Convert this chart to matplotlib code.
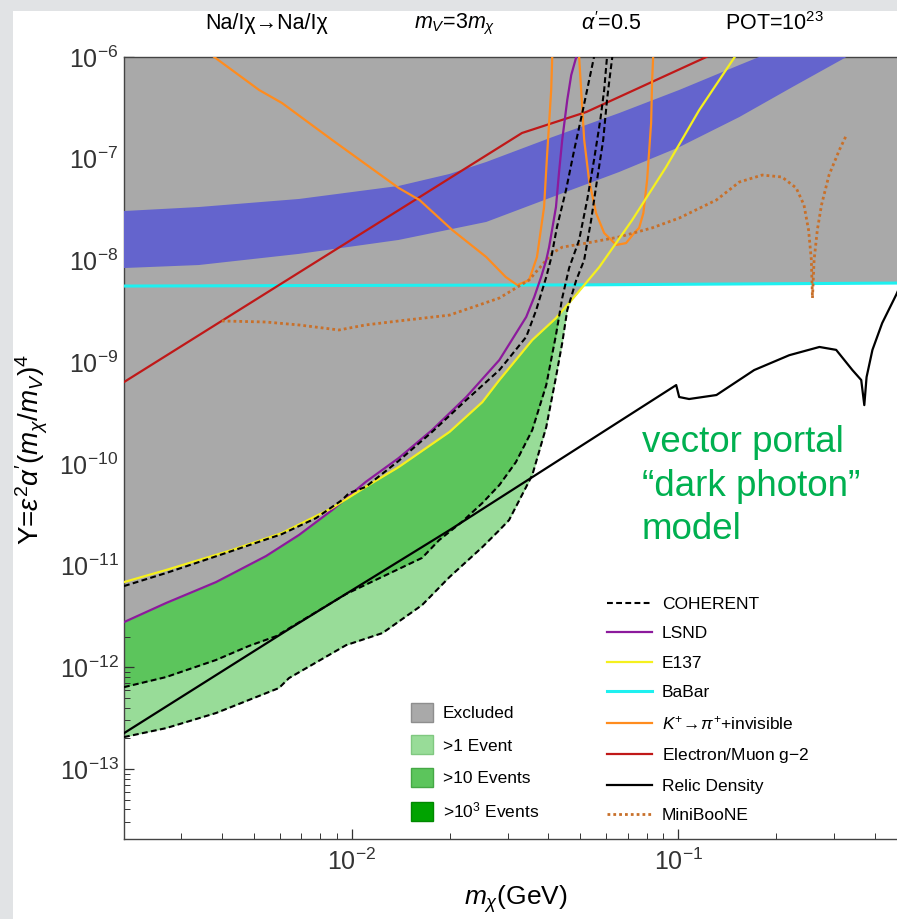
import matplotlib

matplotlib.use("Agg")
import matplotlib.pyplot as plt
import numpy as np
from matplotlib.lines import Line2D
from matplotlib.patches import Patch, Rectangle
from matplotlib.ticker import FixedLocator, NullFormatter

plt.rcParams["font.family"] = ["Liberation Sans", "DejaVu Sans"]
plt.rcParams["mathtext.fontset"] = "custom"
plt.rcParams["mathtext.rm"] = "Liberation Sans"
plt.rcParams["mathtext.it"] = "Liberation Sans:italic"
plt.rcParams["mathtext.bf"] = "Liberation Sans:bold"

# ---- data (m_chi in GeV, Y dimensionless) ----
X_MIN, X_MAX = 2.0e-3, 0.51
Y_MIN, Y_MAX = 2.05e-14, 1.0e-6

lsnd_m = [2.0e-3, 2.69e-3, 3.83e-3, 5.45e-3, 6.88e-3, 8.69e-3, 1.10e-2, 1.39e-2, 1.76e-2, 2.24e-2,
          2.83e-2, 3.42e-2, 3.62e-2, 3.80e-2, 3.94e-2, 4.02e-2, 4.22e-2, 4.31e-2, 4.41e-2, 4.57e-2,
          4.70e-2, 4.87e-2]
lsnd_y = [2.78e-12, 4.28e-12, 6.88e-12, 1.24e-11, 2.00e-11, 3.51e-11, 6.62e-11, 1.14e-10, 2.15e-10, 4.54e-10,
          1.05e-9, 2.78e-9, 4.37e-9, 6.87e-9, 1.01e-8, 1.35e-8, 3.35e-8, 7.23e-8, 1.53e-7, 3.78e-7,
          6.65e-7, 1.0e-6]

e137_m = [2.0e-3, 2.69e-3, 4.28e-3, 6.10e-3, 8.69e-3, 1.10e-2, 1.39e-2, 1.99e-2, 2.51e-2, 2.83e-2,
          3.57e-2, 4.22e-2, 4.80e-2, 5.73e-2, 7.23e-2, 9.18e-2, 0.116, 0.149]
e137_y = [6.88e-12, 9.04e-12, 1.42e-11, 2.09e-11, 3.68e-11, 5.92e-11, 9.30e-11, 2.06e-10, 4.05e-10, 6.67e-10,
          1.65e-9, 2.71e-9, 4.37e-9, 8.61e-9, 2.50e-8, 8.28e-8, 3.01e-7, 1.0e-6]

babar_m = [2.0e-3, 5.0e-2, 0.51]
babar_y = [5.6e-9, 5.75e-9, 6.0e-9]

g2_m = [2.0e-3, 3.32e-2, 5.23e-2, 8.30e-2, 0.122]
g2_y = [6.37e-10, 1.79e-7, 2.88e-7, 5.68e-7, 1.0e-6]

kaon_a_m = [3.78e-3, 5.19e-3, 6.10e-3, 8.69e-3, 1.39e-2, 1.61e-2, 2.03e-2, 2.58e-2, 2.96e-2, 3.21e-2,
            3.49e-2, 3.69e-2, 3.88e-2, 3.96e-2, 4.08e-2, 4.11e-2]
kaon_a_y = [1.0e-6, 4.74e-7, 3.53e-7, 1.53e-7, 5.16e-8, 3.93e-8, 1.99e-8, 1.08e-8, 6.87e-9, 5.73e-9,
            6.41e-9, 1.08e-8, 3.35e-8, 1.04e-7, 4.74e-7, 1.0e-6]
kaon_b_m = [4.97e-2, 5.04e-2, 5.15e-2, 5.33e-2, 5.60e-2, 5.93e-2, 6.46e-2, 6.92e-2, 7.33e-2, 7.59e-2,
            7.82e-2, 8.03e-2, 8.26e-2, 8.32e-2, 8.38e-2]
kaon_b_y = [1.0e-6, 4.74e-7, 1.53e-7, 6.18e-8, 2.92e-8, 1.86e-8, 1.42e-8, 1.48e-8, 1.86e-8, 2.09e-8,
            2.92e-8, 6.18e-8, 2.24e-7, 5.94e-7, 1.0e-6]

relic_m = [2.0e-3, 6.55e-3, 1.99e-2, 0.0986, 0.1007, 0.108, 0.131, 0.171, 0.219, 0.271,
           0.305, 0.342, 0.364, 0.372, 0.378, 0.394, 0.422, 0.466, 0.494]
relic_y = [2.25e-13, 2.48e-12, 2.23e-11, 5.95e-10, 4.54e-10, 4.34e-10, 4.75e-10, 8.36e-10, 1.17e-9, 1.41e-9,
           1.32e-9, 8.36e-10, 6.67e-10, 3.78e-10, 7.13e-10, 1.32e-9, 2.42e-9, 4.6e-9, 7.0e-9]

miniboone_m = [3.99e-3, 5.45e-3, 6.88e-3, 9.12e-3, 1.10e-2, 1.39e-2, 1.99e-2, 2.83e-2, 3.49e-2, 4.11e-2,
               4.41e-2, 5.23e-2, 6.59e-2, 8.32e-2, 0.1007, 0.131, 0.154, 0.181, 0.208, 0.230,
               0.243, 0.251, 0.256, 0.258, 0.261, 0.267, 0.275, 0.290, 0.312, 0.328]
miniboone_y = [2.54e-9, 2.48e-9, 2.32e-9, 2.07e-9, 2.32e-9, 2.54e-9, 2.90e-9, 4.27e-9, 6.41e-9, 1.18e-8,
               1.35e-8, 1.48e-8, 1.70e-8, 2.09e-8, 2.61e-8, 3.93e-8, 5.90e-8, 6.91e-8, 6.61e-8, 5.16e-8,
               3.51e-8, 1.99e-8, 1.01e-8, 4.27e-9, 1.01e-8, 1.99e-8, 3.51e-8, 6.91e-8, 1.22e-7, 1.71e-7]

# COHERENT reach: >10^3, >10 and >1 events
coh1000_m = [2.0e-3, 2.69e-3, 4.28e-3, 6.10e-3, 7.76e-3, 9.32e-3, 9.79e-3, 1.10e-2, 1.39e-2, 1.76e-2,
             2.24e-2, 2.83e-2, 3.42e-2, 3.67e-2, 3.94e-2, 4.08e-2, 4.25e-2, 4.53e-2, 4.80e-2, 5.08e-2, 5.52e-2]
coh1000_y = [6.29e-12, 8.44e-12, 1.39e-11, 2.04e-11, 2.93e-11, 4.41e-11, 5.16e-11, 5.92e-11, 1.07e-10, 2.06e-10,
             4.24e-10, 8.36e-10, 1.77e-9, 3.25e-9, 6.87e-9, 1.06e-8, 2.13e-8, 4.92e-8, 1.22e-7, 2.81e-7, 1.0e-6]
coh10_m = [2.0e-3, 2.69e-3, 3.83e-3, 4.83e-3, 5.85e-3, 9.59e-3, 1.64e-2, 1.85e-2, 2.17e-2, 2.51e-2,
           2.83e-2, 3.18e-2, 3.57e-2, 3.94e-2, 4.22e-2, 4.41e-2, 4.63e-2, 4.97e-2, 5.26e-2, 5.52e-2,
           5.77e-2, 5.93e-2, 6.05e-2]
coh10_y = [6.38e-13, 8.01e-13, 1.18e-12, 1.62e-12, 2.02e-12, 5.25e-12, 1.19e-11, 1.78e-11, 2.68e-11, 4.12e-11,
           6.19e-11, 1.04e-10, 2.15e-10, 5.95e-10, 1.85e-9, 4.27e-9, 8.42e-9, 1.59e-8, 3.93e-8, 9.71e-8,
           2.40e-7, 4.74e-7, 1.0e-6]
coh1_m = [2.0e-3, 2.69e-3, 3.83e-3, 5.97e-3, 6.41e-3, 9.59e-3, 1.24e-2, 1.64e-2, 1.99e-2, 2.51e-2,
          2.83e-2, 3.03e-2, 3.57e-2, 3.94e-2, 4.22e-2, 4.41e-2, 4.57e-2, 4.87e-2, 5.15e-2, 5.41e-2,
          5.64e-2, 5.89e-2, 6.05e-2, 6.18e-2, 6.28e-2]
coh1_y = [2.06e-13, 2.52e-13, 3.55e-13, 6.25e-13, 7.83e-13, 1.65e-12, 2.17e-12, 4.09e-12, 7.71e-12, 1.52e-11,
          2.23e-11, 2.80e-11, 7.76e-11, 2.30e-10, 7.13e-10, 1.54e-9, 3.25e-9, 6.41e-9, 1.01e-8, 2.50e-8,
          6.18e-8, 1.53e-7, 3.78e-7, 6.65e-7, 1.0e-6]

# relic-target band
band_up_m = [2.0e-3, 3.39e-3, 6.88e-3, 1.39e-2, 1.99e-2, 2.58e-2, 4.11e-2, 6.59e-2, 0.1007, 0.154, 0.177, 0.219]
band_up_y = [3.06e-8, 3.35e-8, 4.02e-8, 5.40e-8, 7.08e-8, 9.29e-8, 1.63e-7, 2.81e-7, 4.74e-7, 8.34e-7, 1.0e-6, 1.31e-6]
band_lo_m = [2.0e-3, 3.39e-3, 6.88e-3, 1.39e-2, 2.58e-2, 4.11e-2, 6.59e-2, 0.1007, 0.154, 0.224, 0.328, 0.414]
band_lo_y = [8.42e-9, 9.01e-9, 1.16e-8, 1.59e-8, 2.39e-8, 4.20e-8, 7.40e-8, 1.30e-7, 2.57e-7, 5.07e-7, 1.0e-6, 1.47e-6]

x_ticks = [1e-2, 1e-1]
y_ticks = [1e-13, 1e-12, 1e-11, 1e-10, 1e-9, 1e-8, 1e-7, 1e-6]

line_labels = ["COHERENT", "LSND", "E137", "BaBar", r"$K^{+}\!\rightarrow\!\pi^{+}$+invisible",
               "Electron/Muon g$-$2", "Relic Density", "MiniBooNE"]
area_labels = ["Excluded", ">1 Event", ">10 Events", r">10$^3$ Events"]

GREY = "#a9a9a9"
LIGHT_GREEN = "#98dc98"
MID_GREEN = "#5cc55c"
DARK_GREEN = "#00a300"
BLUE = "#6464cd"
PURPLE = "#8c1a9c"
YELLOW = "#f5f01e"
CYAN = "#1ef0f0"
ORANGE = "#ff8c1e"
RED = "#c01818"
MINI = "#c8702a"
COH_DASH = (0, (2.8, 1.6))
MINI_DOT = (0, (1.0, 1.1))


def log_interp(xs, ys, grid):
    return 10 ** np.interp(np.log10(grid), np.log10(xs), np.log10(ys), left=np.inf, right=np.inf)


def minor_positions(lo, hi):
    out = []
    for dec in range(int(np.floor(np.log10(lo))), int(np.ceil(np.log10(hi))) + 1):
        for k in range(2, 10):
            v = k * 10.0 ** dec
            if lo < v < hi:
                out.append(v)
    return out


W, H = 897, 919
fig = plt.figure(figsize=(W / 100, H / 100), dpi=100, facecolor="#e1e3e5")
fig.patches.append(Rectangle((13 / W, 0), 1, 1 - 11 / H, transform=fig.transFigure,
                             facecolor="white", edgecolor="none", zorder=-10))

ax = fig.add_axes([124 / W, (H - 839) / H, 785 / W, 782 / H])
ax.set_xscale("log")
ax.set_yscale("log")
ax.set_facecolor("white")

TOP = 1e-5
ax.fill_between(coh1_m, coh1_y, TOP, color=LIGHT_GREEN, lw=0, zorder=1)
ax.fill_between(coh10_m, coh10_y, TOP, color=MID_GREEN, lw=0, zorder=1.1)
ax.fill_between(coh1000_m, coh1000_y, TOP, color=DARK_GREEN, lw=0, zorder=1.2)

grid = np.logspace(np.log10(X_MIN), np.log10(X_MAX), 900)
envelope = np.minimum.reduce([log_interp(lsnd_m, lsnd_y, grid),
                              log_interp(e137_m, e137_y, grid),
                              log_interp(babar_m, babar_y, grid)])
ax.fill_between(grid, envelope, TOP, color=GREY, lw=0, zorder=2)

ax.fill(np.r_[band_up_m, band_lo_m[::-1]], np.r_[band_up_y, band_lo_y[::-1]],
        color=BLUE, lw=0, zorder=3)

lw = 1.6
ax.plot(babar_m, babar_y, color=CYAN, lw=2.2, zorder=4)
ax.plot(g2_m, g2_y, color=RED, lw=lw, zorder=4)
ax.plot(kaon_a_m, kaon_a_y, color=ORANGE, lw=lw, zorder=4)
ax.plot(kaon_b_m, kaon_b_y, color=ORANGE, lw=lw, zorder=4)
ax.plot(miniboone_m, miniboone_y, color=MINI, lw=2.0, ls=MINI_DOT, zorder=4)
ax.plot(lsnd_m, lsnd_y, color=PURPLE, lw=lw, zorder=5)
ax.plot(e137_m, e137_y, color=YELLOW, lw=lw, zorder=5)
for cm, cy in ((coh1_m, coh1_y), (coh10_m, coh10_y), (coh1000_m, coh1000_y)):
    ax.plot(cm, cy, color="black", lw=1.5, ls=COH_DASH, zorder=6)
ax.plot(relic_m, relic_y, color="black", lw=1.6, zorder=6)

ax.xaxis.set_major_locator(FixedLocator(x_ticks))
ax.yaxis.set_major_locator(FixedLocator(y_ticks))
ax.xaxis.set_minor_locator(FixedLocator(minor_positions(X_MIN, X_MAX)))
ax.yaxis.set_minor_locator(FixedLocator(minor_positions(Y_MIN, Y_MAX)))
ax.xaxis.set_minor_formatter(NullFormatter())
ax.yaxis.set_minor_formatter(NullFormatter())
ax.set_xlim(X_MIN, X_MAX)
ax.set_ylim(Y_MIN, Y_MAX)

ax.tick_params(which="both", direction="in", top=True, right=True, colors="#333333")
ax.tick_params(which="major", length=7, width=0.9, labelsize=18)
ax.tick_params(which="minor", length=4, width=0.7)
ax.tick_params(axis="x", pad=7)
ax.tick_params(axis="y", pad=4)
for side in ax.spines.values():
    side.set_color("#444444")
    side.set_linewidth(1.0)

handles = [Line2D([], [], color="black", lw=1.5, ls=COH_DASH),
           Line2D([], [], color=PURPLE, lw=lw),
           Line2D([], [], color=YELLOW, lw=lw),
           Line2D([], [], color=CYAN, lw=2.2),
           Line2D([], [], color=ORANGE, lw=lw),
           Line2D([], [], color=RED, lw=lw),
           Line2D([], [], color="black", lw=lw),
           Line2D([], [], color=MINI, lw=2.0, ls=MINI_DOT)]
leg1 = ax.legend(handles, line_labels, loc="upper left", bbox_to_anchor=(607 / W, 1 - 597 / H),
                 bbox_transform=fig.transFigure, frameon=False, fontsize=12.5, handlelength=2.6,
                 handletextpad=0.55, labelspacing=0.81, borderpad=0, borderaxespad=0)
ax.add_artist(leg1)

patches = [Patch(facecolor=GREY, edgecolor="#8e8e8e"),
           Patch(facecolor=LIGHT_GREEN, edgecolor="#80c880"),
           Patch(facecolor=MID_GREEN, edgecolor="#45a845"),
           Patch(facecolor=DARK_GREEN, edgecolor="#008800")]
ax.legend(patches, area_labels, loc="upper left", bbox_to_anchor=(411 / W, 1 - 703 / H),
          bbox_transform=fig.transFigure, frameon=False, fontsize=12.5, handlelength=1.27,
          handleheight=1.3, handletextpad=0.55, labelspacing=0.78, borderpad=0, borderaxespad=0)

top_y = 1 - 24 / H
fig.text(267 / W, top_y, "Na/Iχ→Na/Iχ", ha="center", va="center", fontsize=15.5)
fig.text(455 / W, top_y, r"$m_V$=3$m_\chi$", ha="center", va="center", fontsize=15.5)
fig.text(611 / W, top_y, r"$\alpha'$=0.5", ha="center", va="center", fontsize=15.5)
fig.text(774 / W, top_y, r"POT=10$^{23}$", ha="center", va="center", fontsize=15.5)

fig.text(32 / W, 1 - 449 / H, r"Y=$\varepsilon^2\alpha'(m_\chi/m_V)^4$", rotation=90,
         ha="center", va="center", fontsize=20)
fig.text(516 / W, 1 - 899 / H, r"$m_\chi$(GeV)", ha="center", va="center", fontsize=19)

fig.text(642 / W, 1 - 486 / H, "vector portal\n\u201cdark photon\u201d\nmodel", ha="left", va="center",
         fontsize=26.5, color="#00b050", linespacing=1.32)

fig.savefig("out.png", dpi=100, facecolor=fig.get_facecolor())
